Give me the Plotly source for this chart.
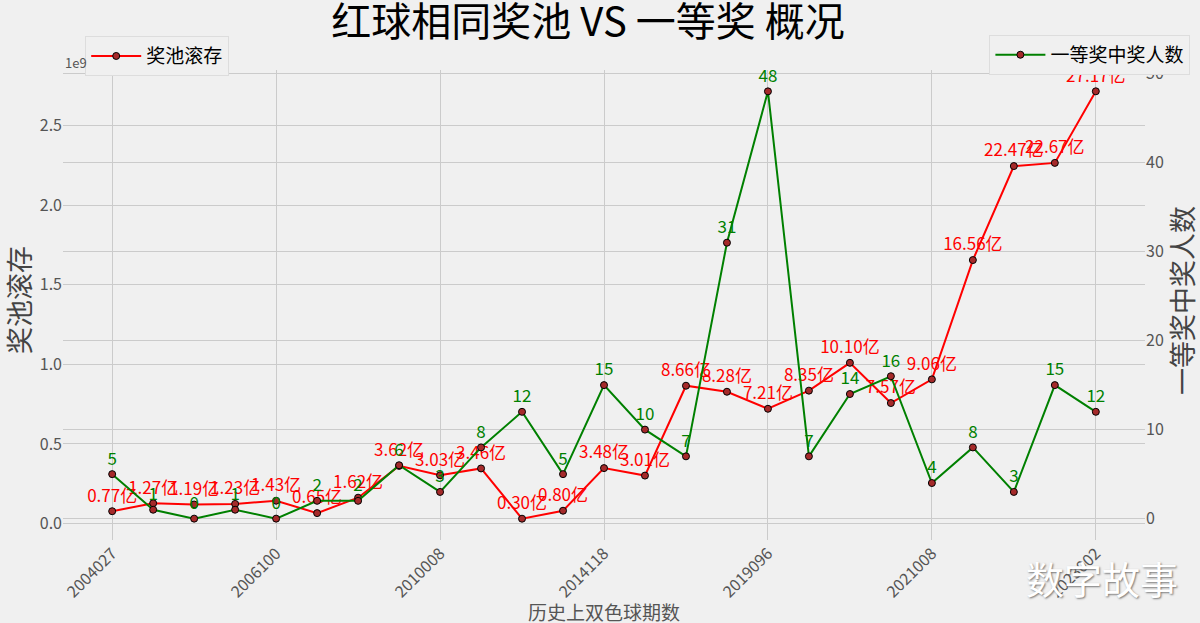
import plotly.graph_objects as go

# 每个点的奖池滚存（亿）与一等奖中奖人数
pool_yi = [0.77, 1.27, 1.19, 1.23, 1.43, 0.65, 1.62, 3.62, 3.03, 3.46, 0.30, 0.80, 3.48,
           3.01, 8.66, 8.28, 7.21, 8.35, 10.10, 7.57, 9.06, 16.56, 22.47, 22.67, 27.17]
winners = [5, 1, 0, 1, 0, 2, 2, 6, 3, 8, 12, 5, 15, 10, 7, 31, 48, 7, 14, 16, 4, 8, 3, 15, 12]

tick_pos = [0, 4, 8, 12, 16, 20, 24]
tick_labels = ["2004027", "2006100", "2010008", "2014118", "2019096", "2021008", "2023002"]

left_ticks = [0, 0.5e9, 1.0e9, 1.5e9, 2.0e9, 2.5e9]
left_labels = ["0.0", "0.5", "1.0", "1.5", "2.0", "2.5"]

idx = list(range(len(pool_yi)))
pool = [v * 1e8 for v in pool_yi]

FONT = "Noto Sans CJK SC"
GRID = "#cbcbcb"
TICK = "#555555"
BG = "#f0f0f0"

fig = go.Figure()

fig.add_trace(go.Scatter(
    x=idx, y=pool, name="奖池滚存",
    mode="lines+markers+text",
    text=[f"{v:.2f}亿" for v in pool_yi],
    textposition="top center",
    textfont=dict(color="red", size=17, family=FONT),
    line=dict(color="red", width=2),
    marker=dict(color="brown", size=7, line=dict(color="black", width=1)),
    legend="legend", showlegend=True,
    cliponaxis=False,
))

fig.add_trace(go.Scatter(
    x=idx, y=winners, name="一等奖中奖人数", yaxis="y2",
    mode="lines+markers+text",
    text=[str(v) for v in winners],
    textposition="top center",
    textfont=dict(color="green", size=17, family=FONT),
    line=dict(color="green", width=2),
    marker=dict(color="brown", size=7, line=dict(color="black", width=1)),
    legend="legend2", showlegend=True,
    cliponaxis=False,
))

fig.update_layout(
    width=1200, height=623,
    showlegend=True,
    paper_bgcolor=BG,
    plot_bgcolor=BG,
    font=dict(family=FONT, color=TICK, size=16),
    margin=dict(l=63, r=55, t=70, b=83, autoexpand=False),
    title=dict(text="红球相同奖池 VS 一等奖 概况", x=0.49, xanchor="center",
               y=0.965, yanchor="middle",
               font=dict(size=40, color="black", family=FONT)),
    xaxis=dict(range=[-1.2, 25.2], tickvals=tick_pos, ticktext=tick_labels,
               tickangle=-45, showgrid=True, gridcolor=GRID, gridwidth=1,
               zeroline=False, showline=False, ticks="", automargin=False,
               tickfont=dict(size=16, color=TICK)),
    yaxis=dict(range=[-0.104e9, 2.851e9], tickvals=left_ticks, ticktext=left_labels,
               showgrid=True, gridcolor=GRID, gridwidth=1, zeroline=False,
               showline=False, ticks="", automargin=False,
               tickfont=dict(size=16, color=TICK)),
    yaxis2=dict(range=[-2.4, 50.4], overlaying="y", side="right",
                tickvals=[0, 10, 20, 30, 40, 50],
                showgrid=True, gridcolor=GRID, gridwidth=1, zeroline=False,
                showline=False, ticks="", automargin=False,
                tickfont=dict(size=16, color=TICK)),
    legend=dict(xref="container", yref="container", x=0.071, y=0.942,
                xanchor="left", yanchor="top", itemwidth=50,
                bgcolor=BG, bordercolor="#dddddd", borderwidth=1,
                font=dict(size=19, color="black", family=FONT)),
    legend2=dict(xref="container", yref="container", x=0.992, y=0.944,
                 xanchor="right", yanchor="top", itemwidth=50,
                 bgcolor=BG, bordercolor="#dddddd", borderwidth=1,
                 font=dict(size=19, color="black", family=FONT)),
    annotations=[
        dict(text="奖池滚存", xref="paper", yref="paper", x=-0.041, y=0.51,
             xanchor="center", yanchor="middle",
             textangle=-90, showarrow=False, font=dict(size=27, color="#444444")),
        dict(text="一等奖中奖人数", xref="paper", yref="paper", x=1.034, y=0.51,
             xanchor="center", yanchor="middle",
             textangle=-90, showarrow=False, font=dict(size=27, color="#444444")),
        dict(text="历史上双色球期数", xref="paper", yref="paper", x=0.5, y=-0.153,
             xanchor="center", yanchor="middle",
             showarrow=False, font=dict(size=19, color=TICK)),
        dict(text="1e9", xref="paper", yref="paper", x=0.0, y=1.017,
             xanchor="left", yanchor="middle",
             showarrow=False, font=dict(size=13, color=TICK)),
        dict(text="数字故事", xref="paper", yref="paper", x=0.96, y=-0.08,
             xanchor="center", yanchor="middle",
             showarrow=False,
             font=dict(size=38, color="white", shadow="1px 1px 2px #777777")),
    ],
)

# page margin off so the figure sits at the window's corner, no modebar
fig.write_html("out.html", config={"displayModeBar": False},
               post_script="document.body.style.margin='0';")
